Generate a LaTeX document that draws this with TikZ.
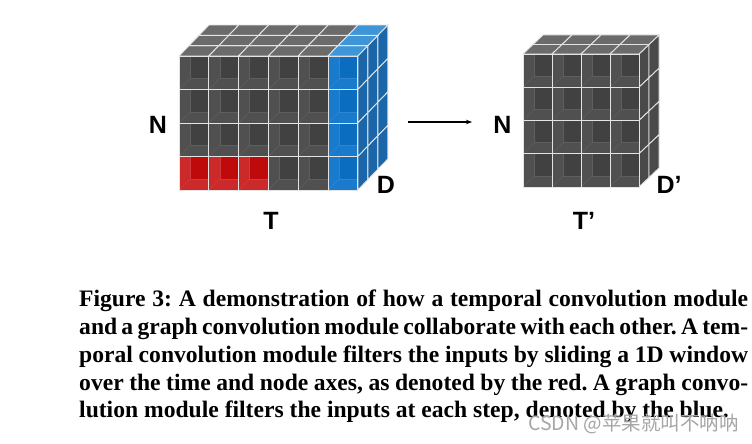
\documentclass[tikz,border=0pt]{standalone}
\usepackage{fontspec}
\setmainfont{Liberation Serif}
\setsansfont{Liberation Sans}
\newfontfamily\cjkfont{Noto Sans CJK SC}
\usetikzlibrary{arrows.meta}
% gray cells
\definecolor{gwall}{HTML}{505050}
\definecolor{gback}{HTML}{414141}
\definecolor{gline}{HTML}{5E5E5E}
\definecolor{gtop}{HTML}{6B6B6B}
\definecolor{gside}{HTML}{4A4A4A}
% blue cells
\definecolor{bwall}{HTML}{1A7BCD}
\definecolor{bback}{HTML}{0B6DC0}
\definecolor{bline}{HTML}{2E86D2}
\definecolor{btop}{HTML}{3E95D8}
\definecolor{bside}{HTML}{1B66A8}
% red cells
\definecolor{rwall}{HTML}{CC2A2A}
\definecolor{rback}{HTML}{BE0A0A}
\definecolor{rline}{HTML}{D03A3A}
\definecolor{edgecol}{HTML}{E4E4E4}
\tikzset{
  edge/.style={draw=edgecol, line width=0.9pt},
  lab/.style={font=\sffamily\bfseries\fontsize{25}{28}\selectfont, anchor=base, inner sep=0pt},
  capline/.style={font=\bfseries\frenchspacing\fontsize{23.6}{28}\selectfont, anchor=base west, inner sep=0pt},
  conn/.style={line width=1.3pt, -{Stealth[length=6pt,width=4.5pt]}},
}
% #1 x, #2 y (top-left, y down), #3 w, #4 h, #5 inner depth, #6 colour prefix
\newcommand\frontcell[6]{%
  \fill[fill=#6wall] (#1,#2) rectangle ++(#3,#4);
  \fill[fill=#6back] ({#1+#5},#2) rectangle ({#1+#3},{#2+#4-#5});
  \draw[draw=#6line, line width=0.6pt] ({#1+#5},#2) -- ({#1+#5},{#2+#4-#5}) -- ({#1+#3},{#2+#4-#5});
  \draw[draw=#6line, line width=0.6pt] (#1,{#2+#4}) -- ({#1+#5},{#2+#4-#5});
  \draw[edge] (#1,#2) rectangle ++(#3,#4);
}
% top cell: #1 x, #2 y of front-left corner, #3 w, #4 dx, #5 dy, #6 colour
\newcommand\topcell[6]{%
  \filldraw[edge, fill=#6] (#1,#2) -- ++(#3,0) -- ++(#4,-#5) -- ++(-#3,0) -- cycle;
}
% side cell: #1 x, #2 y of top-front corner, #3 h, #4 dx, #5 dy, #6 colour
\newcommand\sidecell[6]{%
  \filldraw[edge, fill=#6] (#1,#2) -- ++(#4,-#5) -- ++(0,#3) -- ++(-#4,#5) -- cycle;
}
\begin{document}
\begin{tikzpicture}[x=1pt,y=-1pt]
\fill[white] (0,0) rectangle (752,444);
\useasboundingbox (0,0) rectangle (752,444);

% ---------------- left cube ----------------
\def\Lx{179}\def\Ly{56}\def\Lw{29.8}\def\Lh{33.5}\def\Ldx{10}\def\Ldy{10.33}
\foreach \k in {0,1,2}{\foreach \r in {0,...,3}{
  \pgfmathsetmacro\X{\Lx+6*\Lw+\k*\Ldx}\pgfmathsetmacro\Y{\Ly+\r*\Lh-\k*\Ldy}
  \sidecell{\X}{\Y}{\Lh}{\Ldx}{\Ldy}{bside}
}}
\foreach \k in {0,1,2}{\foreach \c in {0,...,5}{
  \def\tc{gtop}\ifnum\c=5 \def\tc{btop}\fi
  \pgfmathsetmacro\X{\Lx+\c*\Lw+\k*\Ldx}\pgfmathsetmacro\Y{\Ly-\k*\Ldy}
  \topcell{\X}{\Y}{\Lw}{\Ldx}{\Ldy}{\tc}
}}
\foreach \c in {0,...,5}{\foreach \r in {0,...,3}{
  \def\pf{g}%
  \ifnum\c=5 \def\pf{b}\fi
  \ifnum\r=3 \ifnum\c<3 \def\pf{r}\fi\fi
  \pgfmathsetmacro\X{\Lx+\c*\Lw}\pgfmathsetmacro\Y{\Ly+\r*\Lh}
  \frontcell{\X}{\Y}{\Lw}{\Lh}{11}{\pf}
}}

% ---------------- right cube ----------------
\def\Rx{523}\def\Ry{54}\def\Rw{29}\def\Rh{33.25}\def\Rdx{10}\def\Rdy{9.5}
\foreach \k in {0,1}{\foreach \r in {0,...,3}{
  \pgfmathsetmacro\X{\Rx+4*\Rw+\k*\Rdx}\pgfmathsetmacro\Y{\Ry+\r*\Rh-\k*\Rdy}
  \sidecell{\X}{\Y}{\Rh}{\Rdx}{\Rdy}{gside}
}}
\foreach \k in {0,1}{\foreach \c in {0,...,3}{
  \pgfmathsetmacro\X{\Rx+\c*\Rw+\k*\Rdx}\pgfmathsetmacro\Y{\Ry-\k*\Rdy}
  \topcell{\X}{\Y}{\Rw}{\Rdx}{\Rdy}{gtop}
}}
\foreach \c in {0,...,3}{\foreach \r in {0,...,3}{
  \pgfmathsetmacro\X{\Rx+\c*\Rw}\pgfmathsetmacro\Y{\Ry+\r*\Rh}
  \frontcell{\X}{\Y}{\Rw}{\Rh}{11}{g}
}}

% ---------------- labels ----------------
\node[lab] (nL) at (158,133) {N};
\node[lab] (tL) at (271,229) {T};
\node[lab] (dL) at (386,193) {D};
\node[lab] (nR) at (502.5,133) {N};
\node[lab] (dR) at (669,193) {D’};
\node[lab] (tR) at (584,229) {T’};

% ---------------- arrow ----------------
\coordinate (a1) at (408,122);
\coordinate (a2) at (472,122);
\draw[conn] (a1) -- (a2);

% ---------------- caption ----------------
\node[capline] (c1) at (79,306) {\makebox[669pt][s]{Figure 3: A demonstration of how a temporal convolution module}};
\node[capline] (c2) at (79,334) {\makebox[669pt][s]{and a graph convolution module collaborate with each other. A tem-}};
\node[capline] (c3) at (79,362) {\makebox[669pt][s]{poral convolution module filters the inputs by sliding a 1D window}};
\node[capline] (c4) at (79,390) {\makebox[669pt][s]{over the time and node axes, as denoted by the red. A graph convo-}};
\node[capline] (c5) at (79,417) {lution module filters the inputs at each step, denoted by the blue.};

% ---------------- watermark ----------------
\node[anchor=base west, inner sep=0pt, text=black!35, font=\cjkfont\fontsize{19.5}{21}\selectfont] (wm) at (528,430) {CSDN @苹果就叫不呐呐};
\end{tikzpicture}
\end{document}
